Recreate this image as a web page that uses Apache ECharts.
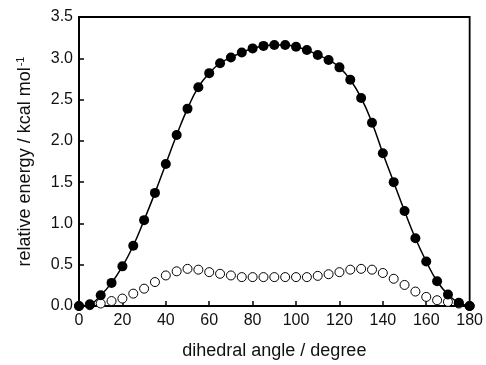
<!DOCTYPE html>
<html>
<head>
<meta charset="utf-8">
<script src="https://cdn.jsdelivr.net/npm/echarts@6/dist/echarts.min.js"></script>
<style>html,body{margin:0;padding:0;background:#fff}#c{width:486px;height:365px}</style>
</head>
<body>
<div id="c"></div>
<script>
const angles = [0,5,10,15,20,25,30,35,40,45,50,55,60,65,70,75,80,85,90,95,100,105,110,115,120,125,130,135,140,145,150,155,160,165,170,175,180];
const filledEnergy = [0,0.02,0.13,0.28,0.48,0.73,1.04,1.37,1.72,2.07,2.39,2.65,2.82,2.94,3.01,3.07,3.12,3.15,3.16,3.16,3.14,3.10,3.04,2.98,2.89,2.74,2.52,2.22,1.85,1.50,1.15,0.82,0.54,0.30,0.14,0.04,0.0];
const openEnergy = [0,0.01,0.03,0.06,0.09,0.15,0.21,0.29,0.37,0.42,0.45,0.44,0.41,0.39,0.37,0.35,0.35,0.35,0.35,0.35,0.35,0.35,0.365,0.385,0.41,0.44,0.45,0.44,0.40,0.33,0.255,0.175,0.11,0.07,0.05,0.03,0.0];
const xTicks = [0,20,40,60,80,100,120,140,160,180];
const yTicks = [0,0.5,1.0,1.5,2.0,2.5,3.0,3.5];

const font = 'Liberation Sans, Arial, sans-serif';
const chart = echarts.init(document.getElementById('c'), null, {renderer: 'canvas'});
chart.setOption({
  animation: false,
  backgroundColor: '#fff',
  grid: {left: 79, right: 14, top: 17, bottom: 55, show: true, borderColor: '#000', borderWidth: 1.8, backgroundColor: 'transparent'},
  xAxis: {
    type: 'value', min: 0, max: 180, interval: 20,
    name: 'dihedral angle / degree', nameLocation: 'middle', nameGap: 36,
    nameTextStyle: {fontFamily: font, fontSize: 18, color: '#111'},
    axisLine: {show: true, lineStyle: {color: '#000', width: 1.8}},
    axisTick: {show: true, inside: true, length: 5, lineStyle: {color: '#000', width: 1.5}},
    axisLabel: {fontFamily: font, fontSize: 16, color: '#111', margin: 7, formatter: v => xTicks.includes(v) ? String(v) : ''},
    splitLine: {show: false}
  },
  yAxis: {
    type: 'value', min: 0, max: 3.5, interval: 0.5,
    name: 'relative energy / kcal mol{sup|-1}', nameLocation: 'middle', nameGap: 44,
    nameTextStyle: {fontFamily: font, fontSize: 18, color: '#111',
      rich: {sup: {fontFamily: font, fontSize: 11, color: '#111', verticalAlign: 'top', padding: [0,0,9,1]}}},
    axisLine: {show: true, lineStyle: {color: '#000', width: 1.8}},
    axisTick: {show: true, inside: true, length: 5, lineStyle: {color: '#000', width: 1.5}},
    axisLabel: {fontFamily: font, fontSize: 16, color: '#111', margin: 6, formatter: v => yTicks.includes(v) ? v.toFixed(1) : ''},
    splitLine: {show: false}
  },
  series: [
    {
      type: 'line', data: angles.map((a, i) => [a, openEnergy[i]]),
      symbol: 'circle', symbolSize: 9, showSymbol: true,
      lineStyle: {width: 0, opacity: 0},
      itemStyle: {color: '#fff', borderColor: '#000', borderWidth: 1},
      z: 2
    },
    {
      type: 'line', data: angles.map((a, i) => [a, filledEnergy[i]]),
      symbol: 'circle', symbolSize: 10, smooth: true,
      lineStyle: {color: '#000', width: 1.5},
      itemStyle: {color: '#000', borderWidth: 0},
      z: 3
    }
  ]
});
</script>
</body>
</html>
